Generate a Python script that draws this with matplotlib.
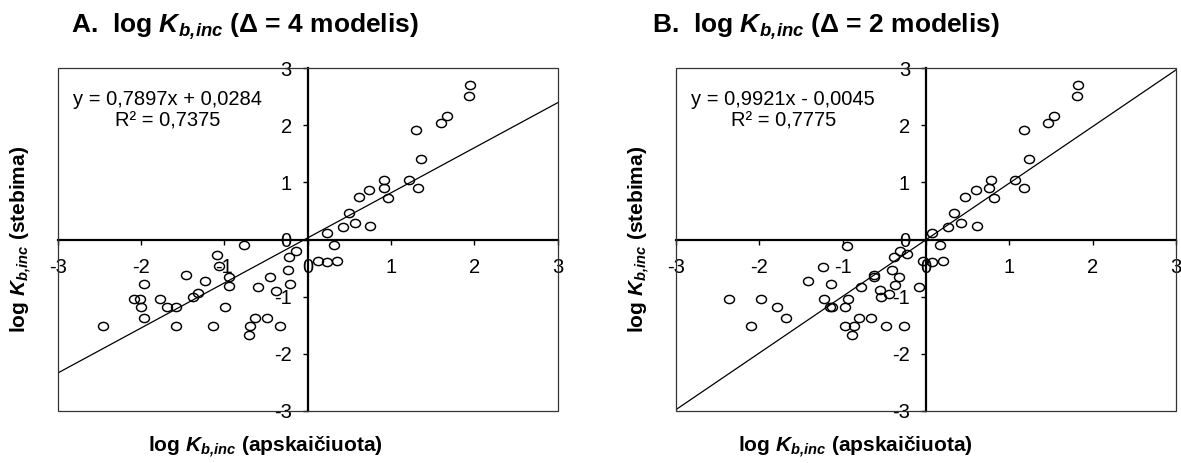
import matplotlib
matplotlib.use('Agg')
import matplotlib.pyplot as plt
from matplotlib.path import Path
from matplotlib.transforms import Affine2D
from matplotlib.patches import Rectangle
import numpy as np

plt.rcParams['font.family'] = ['Liberation Sans', 'DejaVu Sans']
plt.rcParams['mathtext.fontset'] = 'custom'
plt.rcParams['mathtext.rm'] = 'Liberation Sans'
plt.rcParams['mathtext.it'] = 'Liberation Sans:italic'
plt.rcParams['mathtext.bf'] = 'Liberation Sans:bold'
plt.rcParams['mathtext.bfit'] = 'Liberation Sans:italic:bold'

# ---------------- data ----------------
ticks = [-3, -2, -1, 0, 1, 2, 3]

a_calc = [1.95, 1.94, 1.67, 1.60, 1.30, 1.36, 0.92, 1.21, 0.91, 1.32,
          0.74, 0.62, 0.96, 0.49, 0.42, 0.57, 0.75, 0.23, 0.32, 0.12,
          0.23, 0.35, -0.14, -0.77, -1.09, -1.06, -0.95, -0.95, -1.23, -1.46,
          -1.97, -2.08, -2.01, -2.00, -1.97, -1.77, -1.69, -1.58, -1.38, -1.32,
          -1.58, -2.46, -1.14, -0.99, -0.60, -0.45, -0.38, -0.24, -0.21, -0.22,
          -0.63, -0.69, -0.71, -0.49, -0.33]
a_obs = [2.70, 2.52, 2.16, 2.05, 1.92, 1.41, 1.05, 1.05, 0.90, 0.90,
         0.87, 0.75, 0.73, 0.46, 0.22, 0.29, 0.24, 0.11, -0.10, -0.37,
         -0.39, -0.37, -0.21, -0.10, -0.27, -0.46, -0.65, -0.81, -0.72, -0.62,
         -0.78, -1.05, -1.05, -1.19, -1.38, -1.05, -1.19, -1.19, -1.00, -0.94,
         -1.51, -1.51, -1.51, -1.19, -0.83, -0.66, -0.90, -0.54, -0.78, -0.30,
         -1.38, -1.51, -1.68, -1.38, -1.51]

b_calc = [1.82, 1.81, 1.54, 1.46, 1.17, 1.23, 0.78, 1.07, 0.76, 1.18,
          0.60, 0.47, 0.81, 0.33, 0.26, 0.42, 0.61, 0.07, 0.17, -0.04,
          0.07, 0.20, -0.31, -0.39, -0.23, -0.95, -1.24, -1.42, -1.14, -0.62,
          -0.63, -0.41, -0.33, -0.37, -0.78, -0.09, -0.55, -0.54, -0.45, -1.22,
          -0.94, -1.15, -1.13, -0.97, -0.80, -0.66, -0.97, -0.87, -0.48, -0.26,
          -0.89, -2.36, -1.98, -1.79, -1.68, -2.10]
b_obs = [2.70, 2.52, 2.16, 2.05, 1.92, 1.41, 1.05, 1.05, 0.90, 0.90,
         0.87, 0.75, 0.73, 0.46, 0.22, 0.29, 0.24, 0.11, -0.10, -0.37,
         -0.39, -0.37, -0.21, -0.30, -0.26, -0.11, -0.48, -0.72, -0.78, -0.63,
         -0.66, -0.53, -0.66, -0.80, -0.83, -0.83, -0.88, -1.00, -0.95, -1.05,
         -1.05, -1.19, -1.19, -1.19, -1.37, -1.37, -1.51, -1.51, -1.51, -1.51,
         -1.67, -1.05, -1.05, -1.19, -1.38, -1.51]

a_slope, a_intercept = 0.7897, 0.0284
b_slope, b_intercept = 0.9921, -0.0045
a_eq, a_r2 = 'y = 0,7897x + 0,0284', 'R² = 0,7375'
b_eq, b_r2 = 'y = 0,9921x - 0,0045', 'R² = 0,7775'

K = r'$\mathbfit{K}_{\mathbfit{b,\!inc}}$'
title_a = 'A.  log ' + K + ' (Δ = 4 modelis)'
title_b = 'B.  log ' + K + ' (Δ = 2 modelis)'
ylab = 'log ' + K + ' (stebima)'
xlab = 'log ' + K + ' (apskaičiuota)'

# ---------------- figure ----------------
fig = plt.figure(figsize=(11.81, 4.63), dpi=100)
W, H = 1181, 463

ellipse = Path.unit_circle().transformed(Affine2D().scale(1.0, 0.82))


def panel(left_px, xs, ys, slope, intercept, eq, r2, eqx):
    ax = fig.add_axes([left_px / W, 52.3 / H, 500 / W, 342.4 / H])
    ax.set_xlim(-3, 3)
    ax.set_ylim(-3, 3)
    for s in ['top', 'right']:
        ax.spines[s].set_visible(False)
    for s in ['left', 'bottom']:
        ax.spines[s].set_position(('data', 0))
        ax.spines[s].set_linewidth(1.6)
        ax.spines[s].set_color('black')
    ax.add_patch(Rectangle((0, 0), 1, 1, transform=ax.transAxes, fill=False,
                           lw=0.9, ec='#333333', clip_on=False, zorder=3))
    ax.set_xticks(ticks)
    ax.set_yticks(ticks)
    ax.set_xticklabels([str(t) for t in ticks])
    ax.set_yticklabels([str(t) for t in ticks])
    ax.tick_params(axis='x', direction='out', length=3.5, width=1, labelsize=14.5, pad=10)
    ax.tick_params(axis='y', direction='out', length=3.5, width=1, labelsize=14.5, pad=8)
    lx = np.array([-3.0, 3.0])
    ax.plot(lx, slope * lx + intercept, color='black', lw=0.9, zorder=2)
    ax.plot(xs, ys, linestyle='none', marker=ellipse, markersize=7.2,
            markerfacecolor='none', markeredgecolor='black', markeredgewidth=1.05,
            zorder=4)
    ax.text(eqx, 0.910, eq, transform=ax.transAxes, ha='center', va='center', fontsize=14.5)
    ax.text(eqx, 0.846, r2, transform=ax.transAxes, ha='center', va='center', fontsize=14.5)
    return ax


panel(57.7, a_calc, a_obs, a_slope, a_intercept, a_eq, a_r2, 0.219)
panel(676.0, b_calc, b_obs, b_slope, b_intercept, b_eq, b_r2, 0.2147)

fig.text(244.7 / W, 1 - 27 / H, title_a, ha='center', va='center', fontsize=19, fontweight='bold')
fig.text(826 / W, 1 - 27 / H, title_b, ha='center', va='center', fontsize=19, fontweight='bold')

fig.text(21.7 / W, 1 - 239 / H, ylab, rotation=90, ha='center', va='center', fontsize=15, fontweight='bold')
fig.text(639 / W, 1 - 239 / H, ylab, rotation=90, ha='center', va='center', fontsize=15, fontweight='bold')

fig.text(265 / W, 1 - 447 / H, xlab, ha='center', va='center', fontsize=15, fontweight='bold')
fig.text(855 / W, 1 - 447 / H, xlab, ha='center', va='center', fontsize=15, fontweight='bold')

fig.savefig('out.png', dpi=100)
